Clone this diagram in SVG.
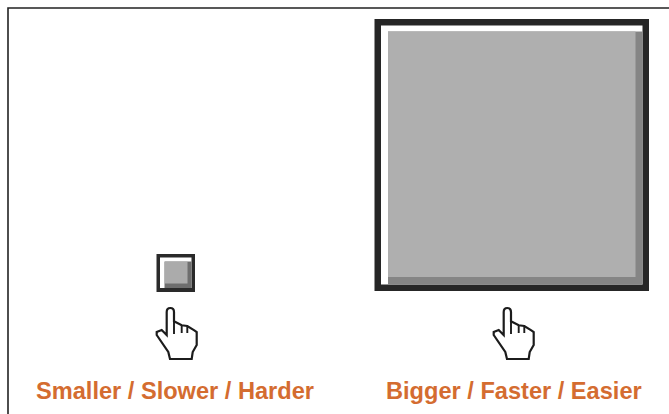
<svg xmlns="http://www.w3.org/2000/svg" width="669" height="414" viewBox="0 0 669 414">
<style>
.lbl{font-family:"Liberation Sans",Arial,sans-serif;font-weight:700;font-size:23.6px;fill:#d46c30}
.hand{fill:#fff;stroke:#1c1c1c;stroke-width:2.2;stroke-linejoin:miter}
.sep{fill:none;stroke:#1c1c1c;stroke-width:1.9}
</style>
<defs>
<g id="hand">
<path class="hand" d="M23.700,40V17Q23.700,13 27.300,13Q31,13 31,17V26.300L38.700,30.300L44.300,31L51.300,35.300L53.700,37V50L49.700,57L48.700,64H27L25.300,57L13.700,40V37L18.700,35L23.700,40Z"/>
<path class="sep" d="M31,26.300V39M38.700,30.300V38M44.300,31V38"/>
</g>
</defs>
<rect width="669" height="414" fill="#fff"/>
<path d="M8,414V8H669" fill="none" stroke="#222" stroke-width="1.6"/>
<g id="small-button">
<rect x="156.500" y="254" width="38.500" height="38" fill="#2a2a2a"/>
<rect x="160" y="257.500" width="31.500" height="30.500" fill="#fff"/>
<path d="M164.500,261.500H191.500V288H164.500Z" fill="#6e6e6e"/>
<rect x="165" y="262" width="22.500" height="21.500" fill="#ababab"/>
</g>
<g id="big-button">
<rect x="374.500" y="19" width="274.500" height="272" fill="#262626"/>
<rect x="381" y="25.500" width="261.500" height="259" fill="#fff"/>
<path d="M388,31.500H642.500V284.500H388Z" fill="#858585"/>
<rect x="388" y="31.500" width="247.500" height="245.500" fill="#afafaf"/>
</g>
<g id="hand-left"><use href="#hand" x="143" y="295"/></g>
<g id="hand-right"><use href="#hand" x="480" y="295"/></g>
<text id="label-left" class="lbl" x="36" y="398.500">Smaller / Slower / Harder</text>
<text id="label-right" class="lbl" x="386" y="398.500">Bigger / Faster / Easier</text>
</svg>
